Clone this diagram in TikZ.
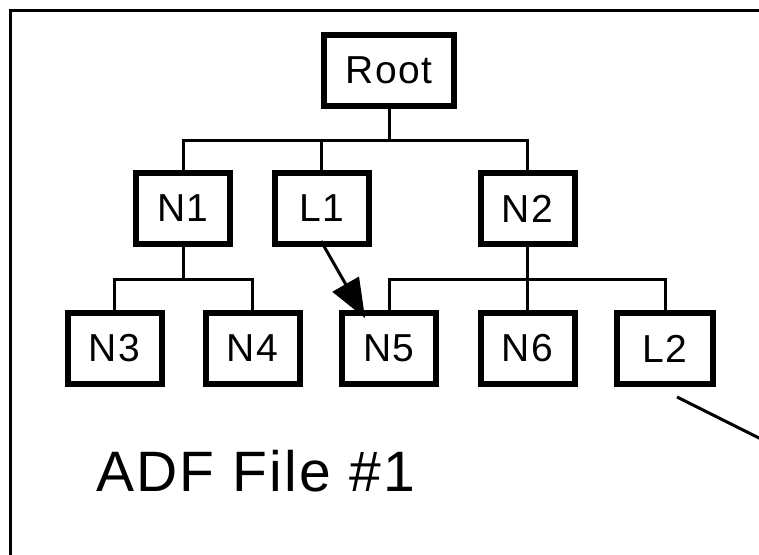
\documentclass[tikz,border=0pt]{standalone}
\usepackage{fontspec}
\setmainfont{Liberation Sans}
\newfontfamily\boxfont[LetterSpace=4]{Liberation Sans}
\usetikzlibrary{arrows.meta}

\tikzset{
  treebox/.style={draw, line width=6pt, fill=white,
    minimum width=94pt, minimum height=71pt, inner sep=0pt,
    font=\boxfont\fontsize{39}{39}\selectfont},
  link/.style={line width=3pt},
  pointer/.style={line width=3pt, -{Triangle[length=39pt,width=30pt]}},
  caption/.style={font=\boxfont\fontsize{57}{57}\selectfont, inner sep=0pt}
}

\begin{document}
\begin{tikzpicture}[x=1pt, y=-1pt]
  \clip (0,0) rectangle (759,554);
  \fill[white] (0,0) rectangle (759,554);

  % outer frame, running past the right and lower edges
  \draw[line width=3pt] (10,10) rectangle (900,700);

  % tree nodes
  \node[treebox, minimum width=130pt] (Root) at (389,70.5) {Root};
  \node[treebox] (N1) at (183,208.5)   {N1};
  \node[treebox] (L1) at (321.5,208.5) {L1};
  \node[treebox] (N2) at (527.5,208.5) {N2};
  \node[treebox] (N3) at (114.5,348.5) {N3};
  \node[treebox] (N4) at (252.5,348.5) {N4};
  \node[treebox] (N5) at (389,348.5)   {N5};
  \node[treebox] (N6) at (527.5,348.5) {N6};
  \node[treebox, minimum width=96pt] (L2) at (665,348.5) {L2};

  % branch levels
  \coordinate (b0) at (389,140);
  \coordinate (b1) at (183,279);
  \coordinate (b2) at (527.5,279);

  % Root -> N1, L1, N2
  \draw[link] (Root.south) -- (Root.south |- b0);
  \draw[link] (N1.north) -- (N1.north |- b0) -- (N2.north |- b0) -- (N2.north);
  \draw[link] (L1.north) -- (L1.north |- b0);

  % N1 -> N3, N4
  \draw[link] (N1.south) -- (b1);
  \draw[link] (N3.north) -- (N3.north |- b1) -- (N4.north |- b1) -- (N4.north);

  % N2 -> N5, N6, L2
  \draw[link] (N2.south) -- (b2);
  \draw[link] (N5.north) -- (N5.north |- b2) -- (L2.north |- b2) -- (L2.north);
  \draw[link] (N6.north) -- (N6.north |- b2);

  % link L1 -> N5
  \coordinate (p0) at (321,241);
  \coordinate (p1) at (365,318);
  \draw[pointer] (p0) -- (p1);

  % link leaving L2 to the right
  \coordinate (q0) at (677,397);
  \coordinate (q1) at (800,458.5);
  \draw[line width=3pt] (q0) -- (q1);

  % caption
  \node[caption, anchor=base west] (title) at (96,491) {ADF File \#1};
\end{tikzpicture}
\end{document}
